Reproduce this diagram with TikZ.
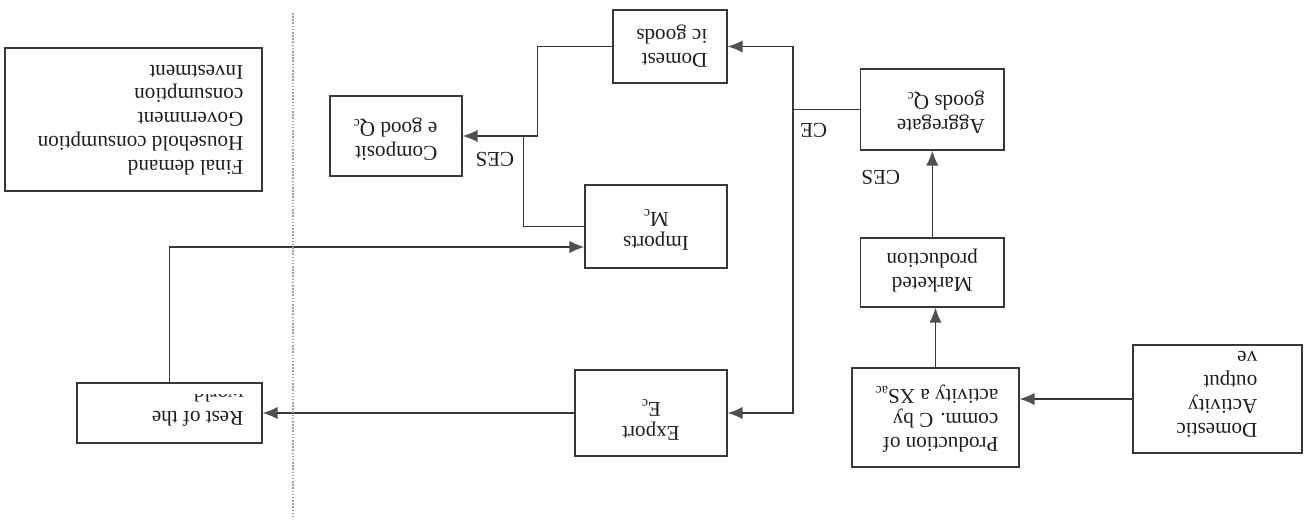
\documentclass[tikz,border=0pt]{standalone}
\usepackage{fontspec}
\setmainfont{Liberation Serif}
\usetikzlibrary{arrows.meta, positioning, calc}
\definecolor{inkgrey}{RGB}{30,30,30}
\definecolor{linegrey}{RGB}{55,55,55}
\definecolor{tipgrey}{RGB}{80,80,80}

\tikzset{
    box/.style={draw=linegrey, line width=0.75pt, inner sep=0pt, fill=white},
    txt/.style={inner sep=0pt, text=inkgrey, align=left, anchor=north west,
        font=\fontsize{12}{13.6}\selectfont},
    ctxt/.style={txt, align=center, anchor=north},
    lbl/.style={inner sep=0pt, text=inkgrey, font=\fontsize{12}{13.6}\selectfont},
    flow/.style={draw=linegrey, line width=0.75pt},
    arr/.style={flow, -{Latex[length=8.5pt, width=7pt, color=tipgrey]}},
    divider/.style={draw=gray!75, line width=0.9pt, dash pattern=on 0.9pt off 0.9pt}
}

\begin{document}
\begin{tikzpicture}[x=0.02cm, y=0.02cm, rotate=180, transform shape]
    % the page was scanned upside down: everything is drawn upright, then turned
    \useasboundingbox (0,0) rectangle (1308,521);

    % boxes
    \node[box, minimum width=3.38cm, minimum height=2.16cm] (act) at (90.5,399) {};
    \node[box, minimum width=3.34cm, minimum height=1.98cm] (prod) at (372.5,417.5) {};
    \node[box, minimum width=2.87cm, minimum height=1.38cm] (mkt) at (375.7,272.5) {};
    \node[box, minimum width=2.87cm, minimum height=1.62cm] (agg) at (375.7,109.5) {};
    \node[box, minimum width=2.28cm, minimum height=1.46cm] (dom) at (638,46.5) {};
    \node[box, minimum width=3.04cm, minimum height=1.72cm] (exp) at (657,413) {};
    \node[box, minimum width=2.84cm, minimum height=1.66cm] (imp) at (652,226.5) {};
    \node[box, minimum width=2.64cm, minimum height=1.60cm] (comp) at (912,136) {};
    \node[box, minimum width=3.70cm, minimum height=1.20cm] (row) at (1138.5,413) {};
    \node[box, minimum width=5.14cm, minimum height=2.86cm] (fd) at (1174.5,119.5) {};

    % texts
    \node[txt] (act-txt) at ($(act.north west)+(45,-16)$) {Domestic\\Activity\\output\\ve};
    \node[txt] (prod-txt) at ($(prod.north west)+(21,-15)$) {Production of\\comm. C by\\activity a XS\textsubscript{ac}};
    \node[ctxt] (mkt-txt) at ($(mkt.north)+(0,-15)$) {Marketed\\production};
    \node[txt] (agg-txt) at ($(agg.north west)+(19.5,-17)$) {Aggregate\\goods Q\textsubscript{c}};
    \node[txt] (dom-txt) at ($(dom.north west)+(20,-16)$) {Domest\\ic goods};
    \node[ctxt] (exp-txt) at ($(exp.north)+(0,-16)$) {Export\\E\textsubscript{c}};
    \node[ctxt] (imp-txt) at ($(imp.north)+(0,-18)$) {Imports\\M\textsubscript{c}};
    \node[txt] (comp-txt) at ($(comp.north west)+(25,-16)$) {Composit\\e good Q\textsubscript{c}};
    \begin{scope}
        \clip ($(row.south west)+(0,12)$) rectangle (row.north east);
        \node[txt] (row-txt) at ($(row.north west)+(19,-17)$) {Rest of the\\world};
    \end{scope}
    \node[txt] (fd-txt) at ($(fd.north west)+(19,-16)$) {Final demand\\Household consumption\\Government\\consumption\\Investment};

    % flows
    \draw[arr] (act.east) -- (act.east -| prod.west);
    \draw[arr] (prod.south) -- (prod.south |- mkt.north);
    \draw[arr] (mkt.south) -- node[lbl, pos=0.69, xshift=1.03cm] (ces-agg) {CES} (agg.north);
    \draw[flow] (agg.east) -- node[lbl, pos=0.69, yshift=0.41cm] (ce-lbl) {CE} ++(67,0) coordinate (split);
    \draw[arr] (split) |- (dom.west);
    \draw[arr] (split) |- (exp.west);
    \coordinate (join) at ($(comp.west)+(-75,0)$);
    \draw[arr] (dom.east) -| (join) -- node[lbl, pos=0.57, yshift=0.46cm] (ces-comp) {CES} (comp.west);
    \draw[flow] (imp.east) -| ($(join)+(14,0)$);
    \draw[arr] (row.south) |- ($(imp.east)+(0,20.5)$);
    \draw[arr] (exp.east) -- (row.west);

    % border of the rest of the world
    \draw[divider] (1015,13) -- (1015,517);
\end{tikzpicture}
\end{document}
